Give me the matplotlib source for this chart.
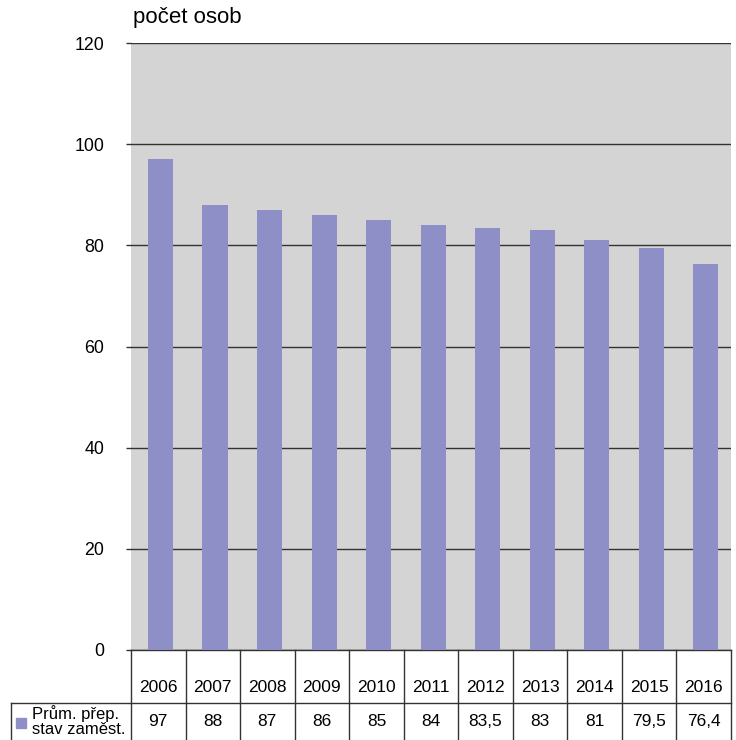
import matplotlib
matplotlib.use('Agg')
import matplotlib.pyplot as plt
import numpy as np

plt.rcParams['font.family'] = ['Liberation Sans', 'DejaVu Sans']

years = ['2006', '2007', '2008', '2009', '2010', '2011', '2012', '2013', '2014', '2015', '2016']
values = [97, 88, 87, 86, 85, 84, 83.5, 83, 81, 79.5, 76.4]
series_label = 'Prům. přep.\nstav zaměst.'
y_label = 'počet osob'
yticks = [0, 20, 40, 60, 80, 100, 120]

bar_color = '#8f8fc8'
bg_color = '#d4d4d4'
line_color = '#333333'

fig = plt.figure(figsize=(7.36, 7.40), dpi=100)
ax = fig.add_axes([131/736, 90/740, 600/736, 607/740])
ax.set_facecolor(bg_color)

x = np.arange(len(years))
ax.bar(x + 0.04, values, width=0.46, color=bar_color, zorder=3)

ax.set_xlim(-0.5, len(years) - 0.5)
ax.set_ylim(0, 120)
ax.set_yticks(yticks)
ax.set_yticklabels([str(t) for t in yticks], fontsize=12.8)
ax.grid(axis='y', color=line_color, linewidth=1, zorder=1)
ax.tick_params(axis='y', length=3.6, width=1, color=line_color, pad=15.8)
ax.set_xticks([])
for s in ax.spines.values():
    s.set_visible(False)

fig.text(133/736, 1 - 17/740, y_label, fontsize=16, va='center', ha='left')

# data table under the chart
tr = ax.get_xaxis_transform()
h1 = -53/607
h2 = -90/607
x_lab = (11 - 131) / (600/11) - 0.5
ax.plot([-0.5, len(years) - 0.5], [0, 0], color=line_color, lw=1, transform=tr, clip_on=False)
ax.plot([x_lab, len(years) - 0.5], [h1, h1], color=line_color, lw=1, transform=tr, clip_on=False)
ax.plot([x_lab, x_lab], [h1, h2], color=line_color, lw=1, transform=tr, clip_on=False)
for i in range(len(years) + 1):
    ax.plot([i - 0.5, i - 0.5], [0, h2], color=line_color, lw=1, transform=tr, clip_on=False)

for i, (yr, v) in enumerate(zip(years, values)):
    ax.text(i, -38/607, yr, ha='center', va='center', fontsize=12.5, transform=tr)
    ax.text(i, -72/607, ('%g' % v).replace('.', ','), ha='center', va='center',
            fontsize=12.5, transform=tr)

ax.plot([(21 - 131) / (600/11) - 0.5], [-73/607], marker='s', markersize=7,
        color=bar_color, transform=tr, clip_on=False)
ax.text((32 - 131) / (600/11) - 0.5, -71/607, series_label, ha='left', va='center',
        fontsize=12, linespacing=0.95, transform=tr)

fig.savefig('out.png', dpi=100)
